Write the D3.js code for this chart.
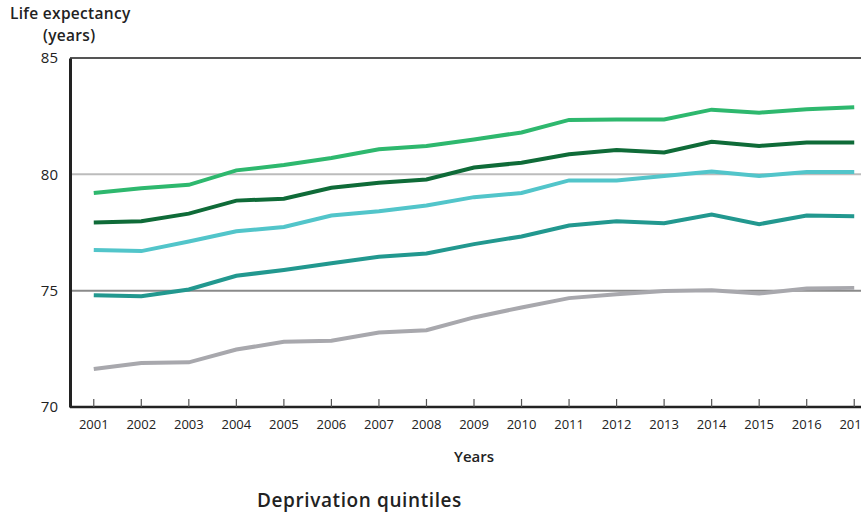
<!DOCTYPE html>
<html>
<head>
<meta charset="utf-8">
<script src="https://cdn.jsdelivr.net/npm/d3@7"></script>
<style>
  body { margin: 0; background: #fff; }
  svg { font-family: "Open Sans", Lato, sans-serif; }
</style>
</head>
<body>
<svg width="861" height="513"></svg>
<script>
const years = ['2001','2002','2003','2004','2005','2006','2007','2008','2009','2010','2011','2012','2013','2014','2015','2016','2017'];
const yTicks = [70, 75, 80, 85];

// one array per quintile, top line first
const q5 = [79.2, 79.4, 79.55, 80.17, 80.4, 80.7, 81.08, 81.22, 81.5, 81.8, 82.34, 82.36, 82.36, 82.78, 82.65, 82.8, 82.88];
const q4 = [77.93, 77.98, 78.31, 78.87, 78.95, 79.42, 79.64, 79.78, 80.29, 80.5, 80.86, 81.05, 80.94, 81.4, 81.22, 81.37, 81.37];
const q3 = [76.75, 76.7, 77.11, 77.55, 77.74, 78.23, 78.41, 78.66, 79.02, 79.2, 79.74, 79.74, 79.93, 80.12, 79.93, 80.1, 80.1];
const q2 = [74.8, 74.76, 75.05, 75.64, 75.89, 76.18, 76.46, 76.6, 77.0, 77.33, 77.8, 77.98, 77.9, 78.27, 77.86, 78.23, 78.2];
const q1 = [71.63, 71.89, 71.92, 72.47, 72.8, 72.85, 73.2, 73.3, 73.85, 74.28, 74.68, 74.85, 74.99, 75.02, 74.88, 75.09, 75.12];

const series = [
  { values: q1, color: '#a8a8ad' },
  { values: q2, color: '#22988f' },
  { values: q3, color: '#52c5ca' },
  { values: q4, color: '#0f6b38' },
  { values: q5, color: '#2eb86e' }
];

const svg = d3.select('svg');
const m = { left: 70, right: 878, top: 58, bottom: 407 };

const x = d3.scaleBand()
    .domain(years)
    .range([m.left, m.right]);

const y = d3.scaleLinear()
    .domain([70, 85])
    .range([m.bottom, m.top]);

// gridlines
svg.append('g')
  .selectAll('line')
  .data(yTicks.filter(t => t > 70))
  .enter()
  .append('line')
    .attr('x1', m.left)
    .attr('x2', 861)
    .attr('y1', d => y(d))
    .attr('y2', d => y(d))
    .attr('stroke', d => d === 85 ? '#555' : (d === 75 ? '#8a8a8a' : '#bcbcbc'))
    .attr('stroke-width', 2);

// lines
const line = d3.line()
    .x((d, i) => x(years[i]) + x.bandwidth() / 2)
    .y(d => y(d));

svg.append('g')
  .selectAll('path')
  .data(series)
  .enter()
  .append('path')
    .attr('d', d => line(d.values))
    .attr('fill', 'none')
    .attr('stroke', d => d.color)
    .attr('stroke-width', 4);

// x axis
const xAxis = svg.append('g')
    .attr('transform', `translate(0,${m.bottom})`)
    .call(d3.axisBottom(x).tickSize(-8).tickPadding(13).tickSizeOuter(0));
xAxis.select('.domain').attr('stroke', '#222').attr('stroke-width', 2.5)
    .attr('d', `M${m.left},0H861`);
xAxis.selectAll('.tick line').attr('stroke', '#555').attr('stroke-width', 1.2);
xAxis.selectAll('.tick text')
    .attr('font-size', 13).attr('fill', '#222')
    .attr('font-family', '"Open Sans", sans-serif');

// y axis
const yAxis = svg.append('g')
    .attr('transform', `translate(${m.left},0)`)
    .call(d3.axisLeft(y).tickValues(yTicks).tickSize(0).tickPadding(12));
yAxis.select('.domain').attr('stroke', '#222').attr('stroke-width', 3);
yAxis.selectAll('.tick text')
    .attr('font-size', 15).attr('fill', '#222')
    .attr('font-family', '"Open Sans", sans-serif');

// labels
svg.append('text')
    .attr('x', 10).attr('y', 19)
    .attr('font-size', 15.5).attr('font-weight', 600).attr('fill', '#222')
    .attr('letter-spacing', 0.3)
    .text('Life expectancy');
svg.append('text')
    .attr('x', 43).attr('y', 41)
    .attr('font-size', 15.5).attr('font-weight', 600).attr('fill', '#222')
    .attr('letter-spacing', 0.3)
    .text('(years)');
svg.append('text')
    .attr('x', (m.left + m.right) / 2).attr('y', 462)
    .attr('text-anchor', 'middle')
    .attr('font-size', 15).attr('font-weight', 600).attr('fill', '#222')
    .text('Years');
svg.append('text')
    .attr('x', 257).attr('y', 507)
    .attr('font-size', 19).attr('font-weight', 600).attr('fill', '#222')
    .attr('letter-spacing', 0.6)
    .text('Deprivation quintiles');
</script>
</body>
</html>
